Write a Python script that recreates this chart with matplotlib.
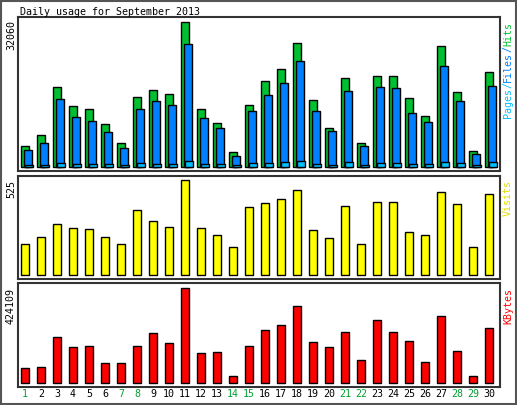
import matplotlib
matplotlib.use("Agg")
import matplotlib.pyplot as plt
from matplotlib.patches import Rectangle

days = list(range(1, 31))
day_labels = [str(d) for d in days]
weekend_days = [1, 7, 8, 14, 15, 21, 22, 28, 29]
hits = [4643, 7002, 17614, 13413, 12750, 9434, 5233, 15403, 16951, 16067, 32060, 12750, 9655, 3243, 13635,
        18941, 21594, 27343, 14740, 8549, 19604, 5233, 20046, 20046, 15182, 11202, 26679, 16509, 3464, 20931]
files = [3685, 5233, 14961, 10981, 10097, 7665, 4127, 12750, 14519, 13635, 27122, 10760, 8549, 2358, 12308,
         15846, 18499, 23363, 12308, 7886, 16730, 4569, 17614, 17393, 11866, 9876, 22257, 14519, 2801, 17835]
pages = [370, 370, 810, 590, 590, 590, 370, 810, 590, 590, 1250, 590, 590, 370, 810,
         810, 1030, 1250, 590, 370, 1030, 370, 810, 810, 590, 590, 1030, 810, 370, 1030]
visits = [171, 210, 282, 260, 254, 210, 171, 359, 298, 265, 525, 260, 221, 155, 376,
          398, 420, 470, 249, 204, 381, 171, 403, 403, 238, 221, 459, 392, 155, 448]
kbytes = [68218, 72667, 206137, 161647, 166096, 90463, 90463, 166096, 223933, 179443, 424109, 134953, 139402,
          32626, 166096, 237280, 259525, 344056, 183892, 161647, 228382, 103810, 281770, 228382, 188341, 94912,
          299566, 143851, 32626, 246178]

W, H = 517, 405
fig = plt.figure(figsize=(W/100, H/100), dpi=100)
fig.patch.set_facecolor("white")
fig.patches.append(Rectangle((1/W, 1/H), 515/W, 403/H, transform=fig.transFigure,
                             fill=False, edgecolor="#555555", lw=1.5))
mono = "DejaVu Sans Mono"
fs = 7.2

def ax_px(x0, y0, x1, y1):
    return fig.add_axes([x0/W, 1-y1/H, (x1-x0)/W, (y1-y0)/H])

def style(ax, ylim):
    ax.set_xlim(0.5625, 30.6875)
    ax.set_ylim(*ylim)
    ax.set_xticks([]); ax.set_yticks([])
    for s in ax.spines.values():
        s.set_color("#333333"); s.set_linewidth(1.5)

ax1 = ax_px(18, 17, 500, 171)
ax1.bar(days, hits, width=0.5, color="#00c030", edgecolor="black", lw=1)
ax1.bar([d+3/16 for d in days], files, width=0.5, color="#0080ff", edgecolor="black", lw=1)
ax1.bar([d+4/16 for d in days], pages, width=0.5, color="#00c0ff", edgecolor="black", lw=1)
style(ax1, (-884, 33165))

ax2 = ax_px(18, 176, 500, 279)
ax2.bar(days, visits, width=0.5, color="#ffff00", edgecolor="black", lw=1)
style(ax2, (-22, 547))

ax3 = ax_px(18, 283, 500, 387)
ax3.bar(days, kbytes, width=0.5, color="#ff0000", edgecolor="black", lw=1)
style(ax3, (-17857, 446430))

def ftext(x, y, s, **kw):
    fig.text(x/W, 1-y/H, s, family=mono, fontsize=fs, **kw)

ftext(20, 12, "Daily usage for September 2013", ha="left", va="center")
ftext(11, 20, f"{max(hits)}", rotation=90, ha="center", va="top")
ftext(11, 180, f"{max(visits)}", rotation=90, ha="center", va="top")
ftext(11, 288, f"{max(kbytes)}", rotation=90, ha="center", va="top")

ftext(508, 22, "Hits", rotation=90, ha="center", va="top", color="#00c030")
ftext(508, 46, "/", rotation=90, ha="center", va="top", color="#0080ff")
ftext(508, 52, "Files", rotation=90, ha="center", va="top", color="#0080ff")
ftext(508, 82, "/", rotation=90, ha="center", va="top", color="#00c0ff")
ftext(508, 88, "Pages", rotation=90, ha="center", va="top", color="#00c0ff")
ftext(508, 180, "Visits", rotation=90, ha="center", va="top", color="#e0e000")
ftext(508, 288, "KBytes", rotation=90, ha="center", va="top", color="#ff0000")

for d, lab in zip(days, day_labels):
    x = 25 + 16*(d-1)
    ftext(x, 394, lab, ha="center", va="center",
          color="#00a030" if d in weekend_days else "black")

fig.savefig("out.png", dpi=100)
